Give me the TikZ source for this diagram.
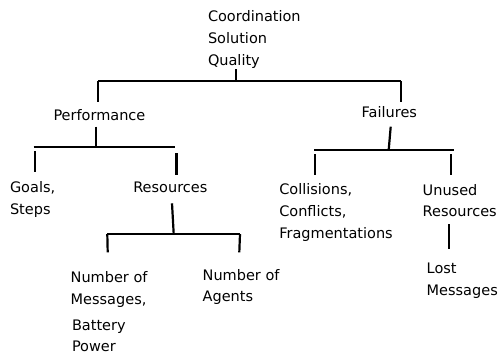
\documentclass[tikz,border=0pt]{standalone}
\usepackage{fontspec}
\setmainfont{DejaVu Sans}
\begin{document}
\begin{tikzpicture}[x=1pt,y=-1pt,
  lbl/.style={anchor=base west,inner sep=0pt,outer sep=0pt,align=left,
    font=\fontsize{14.5}{21.7}\selectfont},
  conn/.style={line width=2.2pt,black}]
\useasboundingbox (0,0) rectangle (501,356);
% labels (anchored at the baseline of their last line)
\node[lbl] (root) at (208,65) {Coordination\\Solution\\Quality};
\node[lbl] (perf) at (53.5,120.7) {Performance};
\node[lbl] (fail) at (361.7,117.7) {Failures};
\node[lbl] (goals) at (10,214.3) {Goals,\\Steps};
\node[lbl] (res) at (133.3,192.3) {Resources};
\node[lbl] (coll) at (279.3,238.3) {Collisions,\\Conflicts,\\Fragmentations};
\node[lbl] (unused) at (422.7,216.7) {Unused\\Resources};
\node[lbl] (nummsg) at (70.7,304.3) {Number of\\Messages,};
\node[lbl] (batt) at (72,351.7) {Battery\\Power};
\node[lbl] (numag) at (202.7,301.7) {Number of\\Agents};
\node[lbl] (lost) at (426.7,295) {Lost\\Messages};
% junction coordinates
\coordinate (rootS) at (235.7,69);
\coordinate (rootJ) at (235.7,81);
\coordinate (rootL) at (98,81);
\coordinate (rootR) at (401,81);
\coordinate (perfN) at (98,102);
\coordinate (failN) at (401,102);
\coordinate (perfS) at (96,126.7);
\coordinate (perfJ) at (96,147.3);
\coordinate (perfL) at (33.5,147.3);
\coordinate (perfR) at (174.5,147.3);
\coordinate (goalsT) at (35,151);
\coordinate (goalsN) at (35,172);
\coordinate (resT) at (176.5,153);
\coordinate (resN) at (176.5,175);
\coordinate (failS) at (390.7,126.7);
\coordinate (failJ) at (388.7,150);
\coordinate (failL) at (314,150);
\coordinate (failR) at (454,150);
\coordinate (collT) at (315,154.3);
\coordinate (collN) at (315,175);
\coordinate (unT) at (450.7,154.3);
\coordinate (unN) at (450.7,175);
\coordinate (resS) at (172,203.3);
\coordinate (resJ) at (173.7,234);
\coordinate (resL) at (107.3,234);
\coordinate (resR) at (240,234);
\coordinate (nmN) at (107.7,252.3);
\coordinate (naN) at (239.3,252.3);
\coordinate (unS) at (449,224.3);
\coordinate (lostN) at (449,249);
% connectors
\draw[conn] (rootS) -- (rootJ);
\draw[conn] (rootL) -- (rootR);
\draw[conn] (rootL) -- (perfN);
\draw[conn] (rootR) -- (failN);
\draw[conn] (perfS) -- (perfJ);
\draw[conn] (perfL) -- (perfR);
\draw[conn] (goalsT) -- (goalsN);
\draw[conn] (resT) -- (resN);
\draw[conn] (failS) -- (failJ);
\draw[conn] (failL) -- (failR);
\draw[conn] (collT) -- (collN);
\draw[conn] (unT) -- (unN);
\draw[conn] (resS) -- (resJ);
\draw[conn] (resL) -- (resR);
\draw[conn] (resL) -- (nmN);
\draw[conn] (resR) -- (naN);
\draw[conn] (unS) -- (lostN);
\end{tikzpicture}
\end{document}
